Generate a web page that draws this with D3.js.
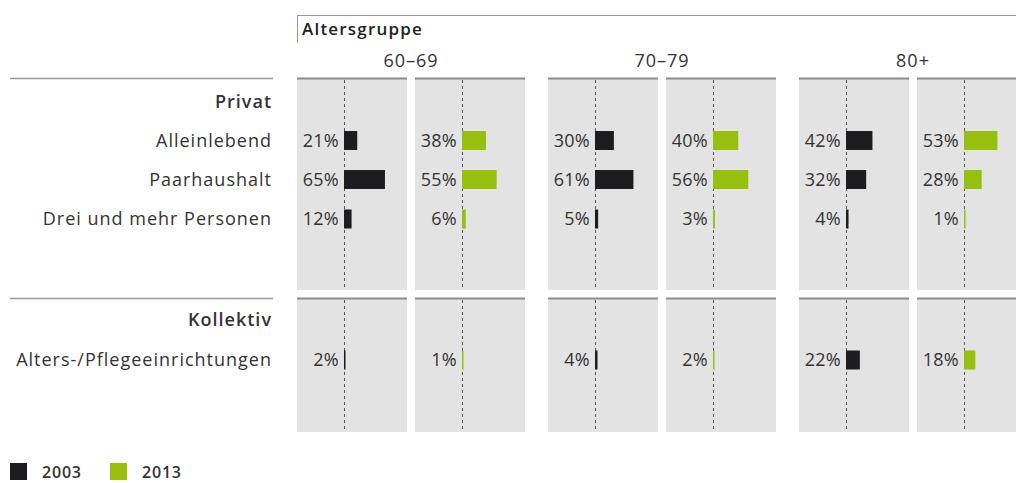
<!DOCTYPE html>
<html lang="de">
<head>
<meta charset="UTF-8">
<title>Haushaltsform nach Altersgruppe</title>
<script src="https://cdn.jsdelivr.net/npm/d3@7"></script>
<style>
    body { margin: 0; background: #fff; }
    svg { display: block; font-family: "Open Sans", sans-serif; }
    .lbl { fill: #333; font-size: 18px; letter-spacing: 1px; }
    .val { fill: #333; font-size: 18px; letter-spacing: 0.3px; }
</style>
</head>
<body>
<svg width="1016" height="483"></svg>
<script>
    // data
    const ageGroups = ["60–69", "70–79", "80+"];
    const years = ["2003", "2013"];
    const rows = ["Alleinlebend", "Paarhaushalt", "Drei und mehr Personen", "Alters-/Pflegeeinrichtungen"];
    const sections = ["Privat", "Kollektiv"];
    // per age group, one value per row
    const values2003 = [[21, 65, 12, 2], [30, 61, 5, 4], [42, 32, 4, 22]];
    const values2013 = [[38, 55, 6, 1], [40, 56, 3, 2], [53, 28, 1, 18]];
    const colors = ["#1d1d1f", "#97bf0d"];

    const svg = d3.select("svg");

    // layout
    const panelW = 110, innerGap = 8;
    const groupX = d3.scalePoint().domain(ageGroups).range([297, 799]);
    const yearX = d3.scaleOrdinal().domain(years).range([0, panelW + innerGap]);
    const x = d3.scaleLinear().domain([0, 100]).range([47, panelW]);

    // vertical positions: rows and section blocks
    const rowY = d3.scaleOrdinal().domain(rows).range([140.5, 179.5, 219, 360]);
    const sectionY = d3.scaleOrdinal().domain(sections).range([102, 320]);
    const blocks = [{top: 78, bottom: 290}, {top: 298, bottom: 432}];

    // header
    svg.append("line").attr("x1", 297).attr("x2", 1016).attr("y1", 15.5).attr("y2", 15.5)
        .attr("stroke", "#999").attr("stroke-width", 1);
    svg.append("line").attr("x1", 297.5).attr("x2", 297.5).attr("y1", 15).attr("y2", 43)
        .attr("stroke", "#999").attr("stroke-width", 1);
    svg.append("text").attr("x", 302).attr("y", 35)
        .attr("fill", "#222").attr("font-size", "17px").attr("font-weight", 600)
        .attr("letter-spacing", "1.2px")
        .text("Altersgruppe");

    svg.selectAll(".age").data(ageGroups).enter().append("text")
        .attr("class", "lbl")
        .attr("x", d => groupX(d) + panelW + innerGap / 2)
        .attr("y", 67)
        .attr("text-anchor", "middle")
        .text(d => d);

    // panel backgrounds
    const panels = [];
    ageGroups.forEach((g, gi) => years.forEach((yr, yi) => blocks.forEach(b => {
        panels.push({g: g, yr: yr, b: b, x0: groupX(g) + yearX(yr)});
    })));

    svg.selectAll(".panel").data(panels).enter().append("rect")
        .attr("x", d => d.x0).attr("y", d => d.b.top)
        .attr("width", panelW).attr("height", d => d.b.bottom - d.b.top)
        .attr("fill", "#e3e3e4");
    svg.selectAll(".ptop").data(panels).enter().append("line")
        .attr("x1", d => d.x0).attr("x2", d => d.x0 + panelW)
        .attr("y1", d => d.b.top + 0.5).attr("y2", d => d.b.top + 0.5)
        .attr("stroke", "#8c8c8c").attr("stroke-width", 2);
    svg.selectAll(".zero").data(panels).enter().append("line")
        .attr("x1", d => d.x0 + x(0) + 0.5).attr("x2", d => d.x0 + x(0) + 0.5)
        .attr("y1", d => d.b.top + 2).attr("y2", d => d.b.bottom)
        .attr("stroke", "#555").attr("stroke-width", 1).attr("stroke-dasharray", "3,3");

    // left separators and row labels
    svg.selectAll(".sep").data(blocks).enter().append("line")
        .attr("x1", 10).attr("x2", 273)
        .attr("y1", d => d.top + 0.5).attr("y2", d => d.top + 0.5)
        .attr("stroke", "#999").attr("stroke-width", 1.5);

    svg.selectAll(".sec").data(sections).enter().append("text")
        .attr("class", "lbl")
        .attr("x", 272).attr("y", d => sectionY(d) + 6)
        .attr("text-anchor", "end").attr("font-weight", 600).attr("fill", "#222")
        .text(d => d);

    svg.selectAll(".row").data(rows).enter().append("text")
        .attr("class", "lbl")
        .attr("x", 272).attr("y", d => rowY(d) + 6)
        .attr("text-anchor", "end")
        .text(d => d);

    // bars
    const bars = [];
    ageGroups.forEach((g, gi) => rows.forEach((r, ri) => {
        bars.push({g: g, yr: years[0], r: r, v: values2003[gi][ri], c: colors[0]});
        bars.push({g: g, yr: years[1], r: r, v: values2013[gi][ri], c: colors[1]});
    }));

    const barH = 19;
    svg.selectAll(".bar").data(bars).enter().append("rect")
        .attr("x", d => groupX(d.g) + yearX(d.yr) + x(0))
        .attr("y", d => rowY(d.r) - barH / 2)
        .attr("width", d => Math.max(1.5, x(d.v) - x(0)))
        .attr("height", barH)
        .attr("fill", d => d.c);

    svg.selectAll(".val").data(bars).enter().append("text")
        .attr("class", "val")
        .attr("x", d => groupX(d.g) + yearX(d.yr) + x(0) - 5)
        .attr("y", d => rowY(d.r) + 6)
        .attr("text-anchor", "end")
        .text(d => d.v + "%");

    // legend
    const leg = svg.selectAll(".leg").data(years).enter().append("g")
        .attr("transform", (d, i) => "translate(" + (10 + i * 100) + ",463)");
    leg.append("rect").attr("width", 17).attr("height", 17).attr("fill", (d, i) => colors[i]);
    leg.append("text").attr("x", 32).attr("y", 15)
        .attr("font-size", "16px").attr("font-weight", 600).attr("fill", "#333")
        .attr("letter-spacing", "0.8px")
        .text(d => d);
</script>
</body>
</html>
